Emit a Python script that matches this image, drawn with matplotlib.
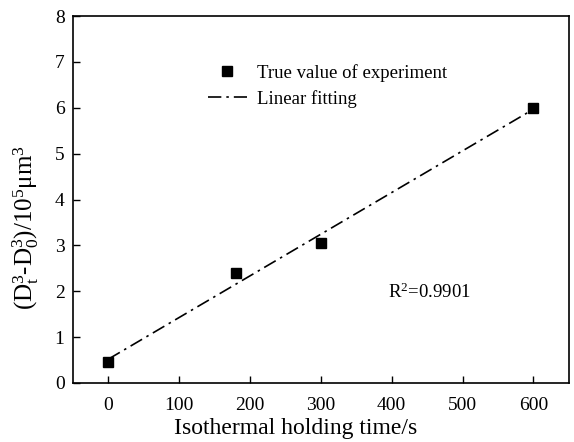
import matplotlib
matplotlib.use("Agg")
import matplotlib.pyplot as plt

plt.rcParams['font.family'] = ['Liberation Serif', 'DejaVu Serif']
plt.rcParams['mathtext.fontset'] = 'custom'
plt.rcParams['mathtext.rm'] = 'Liberation Serif'
plt.rcParams['mathtext.it'] = 'Liberation Serif:italic'

time_s = [0, 180, 300, 600]
values = [0.46, 2.39, 3.05, 5.99]
fit_x = [0, 600]
fit_y = [0.52, 5.97]
xticks = [0, 100, 200, 300, 400, 500, 600]
yticks = [0, 1, 2, 3, 4, 5, 6, 7, 8]

fig = plt.figure(figsize=(5.74, 4.42), dpi=100)
ax = fig.add_axes([0.127, 0.1335, 0.864, 0.830])

ax.plot(fit_x, fit_y, color='black', lw=1.2, linestyle=(0, (8, 3, 1.5, 3)),
        label='Linear fitting', zorder=2)
ax.plot(time_s, values, 's', color='black', ms=6.5, linestyle='none',
        label='True value of experiment', zorder=3)

ax.set_xlim(-50, 650)
ax.set_ylim(0, 8)
ax.set_xticks(xticks)
ax.set_yticks(yticks)
ax.tick_params(direction='in', length=5, width=1, labelsize=14, top=False, right=False)
ax.tick_params(axis='x', pad=10)
ax.tick_params(axis='y', pad=6)
for s in ax.spines.values():
    s.set_linewidth(1.2)

ax.set_xlabel('Isothermal holding time/s', fontsize=17)
ax.xaxis.set_label_coords(0.449, -0.095)
ax.set_ylabel(r'(D$_\mathrm{t}^3$-D$_0^3$)/10$^5$μm$^3$', fontsize=18)
ax.yaxis.set_label_coords(-0.064, 0.425)

handles, labels = ax.get_legend_handles_labels()
ax.legend(handles[::-1], labels[::-1], loc='upper left', bbox_to_anchor=(0.245, 0.906),
          frameon=False, fontsize=13.5, handlelength=2.1, handletextpad=0.53,
          labelspacing=0.45, borderpad=0.2)

ax.text(395, 1.97, r'R$^2$=0.9901', fontsize=13.5, ha='left', va='center')

fig.savefig('out.png', dpi=100)
